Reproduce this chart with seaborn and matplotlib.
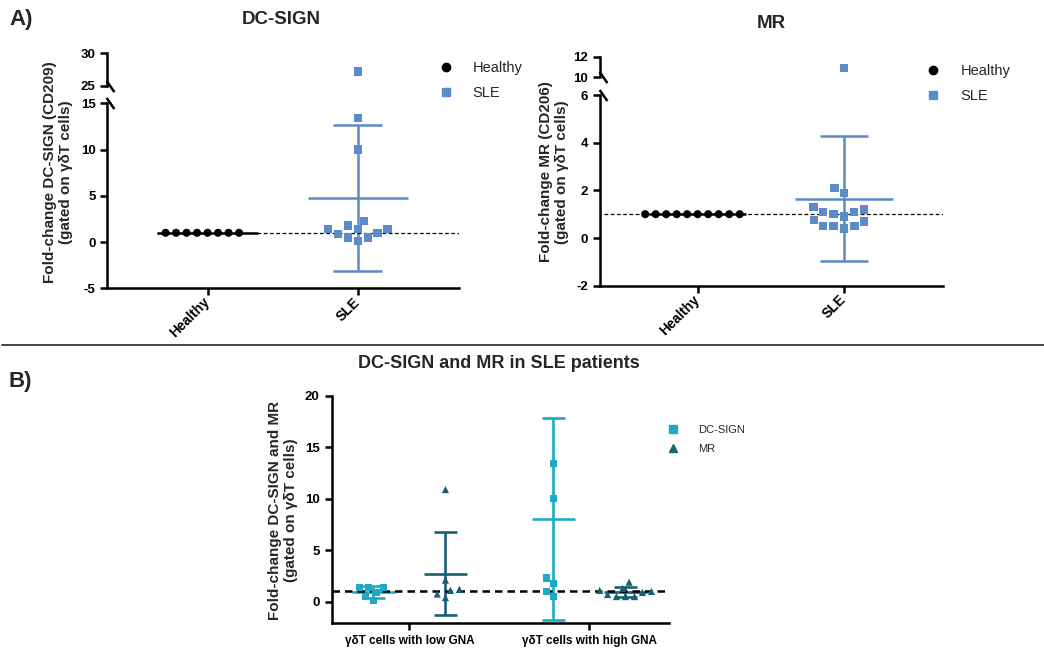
import matplotlib
matplotlib.use("Agg")
import matplotlib.pyplot as plt
from matplotlib.lines import Line2D
import numpy as np
import pandas as pd
import seaborn as sns

# ---------------- data ----------------
groups_a = ["Healthy", "SLE"]
gna_groups = ["low", "high"]
gna_labels = ["γδT cells with low GNA", "γδT cells with high GNA"]
markers_b = ["DC-SIGN", "MR"]

dcsign_healthy = [1.0, 1.0, 1.0, 1.0, 1.0, 1.0, 1.0, 1.0]
dcsign_sle_low_gna = [1.4, 1.4, 0.1, 0.5, 1.4, 0.9]
dcsign_sle_high_gna = [27.2, 13.4, 10.0, 2.3, 1.8, 0.5, 1.0]

mr_healthy = [1.0, 1.0, 1.0, 1.0, 1.0, 1.0, 1.0, 1.0, 1.0, 1.0]
mr_sle_low_gna = [10.9, 2.1, 1.1, 0.4, 0.75, 1.2]
mr_sle_high_gna = [1.9, 1.3, 1.1, 1.0, 0.9, 0.7, 0.5, 0.5, 0.5]

dc_ylim_low, dc_yticks_low = (-5, 15), [-5, 0, 5, 10, 15]
dc_ylim_high, dc_yticks_high = (25, 30), [25, 30]
mr_ylim_low, mr_yticks_low = (-2, 6), [-2, 0, 2, 4, 6]
mr_ylim_high, mr_yticks_high = (10, 12), [10, 12]
b_ylim, b_yticks = (-2.1, 20), [0, 5, 10, 15, 20]

# ---------------- style ----------------
SLE_BLUE = "#5B8BC9"
DC_CYAN = "#1FA9C4"
MR_TEAL = "#1B5F73"

sns.set_style("ticks", {"axes.edgecolor": "black", "xtick.color": "black", "ytick.color": "black"})
plt.rcParams["font.family"] = ["Liberation Sans", "DejaVu Sans"]
plt.rcParams["font.weight"] = "bold"
plt.rcParams["axes.linewidth"] = 1.8
plt.rcParams["axes.unicode_minus"] = False

W, H = 1044, 651
fig = plt.figure(figsize=(W / 100, H / 100), dpi=100)


def box(x0, y_top, x1, y_bot):
    return [x0 / W, 1 - y_bot / H, (x1 - x0) / W, (y_bot - y_top) / H]


def style_ax(ax, size=9.5):
    ax.tick_params(width=1.8, length=5, labelsize=size, color="black")
    for s in ax.spines.values():
        s.set_linewidth(1.8)
    for lab in ax.get_xticklabels() + ax.get_yticklabels():
        lab.set_fontweight("bold")
    ax.patch.set_visible(False)


def add_break(ax_lo, ax_hi):
    kw = dict(marker=[(-0.7, 1), (0.7, -1)], markersize=8, linestyle="none",
              color="black", mew=1.8, clip_on=False, zorder=10)
    ax_lo.plot([0.008], [1], transform=ax_lo.transAxes, **kw)
    ax_hi.plot([0.008], [0], transform=ax_hi.transAxes, **kw)


def draw_panel_a(ax_lo, ax_hi, healthy, sle, lo_lim, lo_ticks, hi_lim, hi_ticks,
                 dash_from, legend_xy):
    df = pd.DataFrame({
        "group": ["Healthy"] * len(healthy) + ["SLE"] * len(sle),
        "value": list(healthy) + list(sle),
    })
    for ax in (ax_lo, ax_hi):
        sns.swarmplot(data=df[df["group"] == "Healthy"], x="group", y="value",
                      order=groups_a, color="black", marker="o", size=5.8,
                      linewidth=1.4, edgecolor="none", ax=ax, zorder=3)
        sns.swarmplot(data=df[df["group"] == "SLE"], x="group", y="value",
                      order=groups_a, color=SLE_BLUE, marker="s", size=6.0,
                      linewidth=1.4, edgecolor="none", ax=ax, zorder=3)
    stats = df.groupby("group")["value"].agg(["mean", "std"]).reindex(groups_a).fillna(0)
    for i, g in enumerate(groups_a):
        m, s = stats.loc[g, "mean"], stats.loc[g, "std"]
        c = "black" if g == "Healthy" else SLE_BLUE
        ax_lo.hlines(m, i - 0.333, i + 0.333, color=c, lw=1.8, zorder=2)
        if s > 0:
            ax_lo.vlines(i, m - s, m + s, color=c, lw=1.8, zorder=2)
            ax_lo.hlines([m - s, m + s], i - 0.163, i + 0.163, color=c, lw=1.8, zorder=2)
    xl = (-0.667, 1.675)
    ax_lo.hlines(1, dash_from, xl[1], color="black", lw=0.9, ls=(0, (3, 2)), zorder=2.5)
    for ax in (ax_lo, ax_hi):
        ax.set_xlim(xl)
        ax.set_xlabel("")
        ax.set_ylabel("")
    ax_lo.set_ylim(lo_lim)
    ax_lo.set_yticks(lo_ticks)
    ax_hi.set_ylim(hi_lim)
    ax_hi.set_yticks(hi_ticks)
    sns.despine(ax=ax_lo)
    sns.despine(ax=ax_hi, bottom=True)
    ax_hi.set_xticks([])
    ax_lo.set_xticks([0, 1])
    ax_lo.set_xticklabels(groups_a, rotation=45, ha="right", va="center",
                          rotation_mode="anchor")
    style_ax(ax_lo)
    style_ax(ax_hi)
    for lab in ax_lo.get_xticklabels():
        lab.set_fontsize(10)
    add_break(ax_lo, ax_hi)
    handles = [Line2D([], [], marker="o", color="black", ls="none", markersize=6),
               Line2D([], [], marker="s", color=SLE_BLUE, ls="none", markersize=6)]
    fig.legend(handles, groups_a, loc="upper left",
               bbox_to_anchor=(legend_xy[0] / W, 1 - legend_xy[1] / H),
               bbox_transform=fig.transFigure, frameon=False,
               prop={"size": 10.5, "weight": "normal"}, handlelength=1.0,
               handletextpad=1.35, labelspacing=0.75, borderpad=0, borderaxespad=0)


# ---------------- panel A: DC-SIGN ----------------
ax_dc_lo = fig.add_axes(box(107.3, 103.3, 459.3, 288.3))
ax_dc_hi = fig.add_axes(box(107.3, 53.3, 459.3, 86))
draw_panel_a(ax_dc_lo, ax_dc_hi, dcsign_healthy, dcsign_sle_low_gna + dcsign_sle_high_gna,
             dc_ylim_low, dc_yticks_low, dc_ylim_high, dc_yticks_high,
             dash_from=-0.333, legend_xy=(438.5, 61))

# ---------------- panel A: MR ----------------
ax_mr_lo = fig.add_axes(box(600, 95, 943, 285.7))
ax_mr_hi = fig.add_axes(box(600, 56.7, 943, 77.3))
draw_panel_a(ax_mr_lo, ax_mr_hi, mr_healthy, mr_sle_low_gna + mr_sle_high_gna,
             mr_ylim_low, mr_yticks_low, mr_ylim_high, mr_yticks_high,
             dash_from=-0.64, legend_xy=(926, 64))

# ---------------- panel B ----------------
axb = fig.add_axes(box(331.5, 396, 669, 623.3))
df_b = pd.DataFrame({
    "gna": (["low"] * len(dcsign_sle_low_gna) + ["high"] * len(dcsign_sle_high_gna)
            + ["low"] * len(mr_sle_low_gna) + ["high"] * len(mr_sle_high_gna)),
    "marker": (["DC-SIGN"] * (len(dcsign_sle_low_gna) + len(dcsign_sle_high_gna))
               + ["MR"] * (len(mr_sle_low_gna) + len(mr_sle_high_gna))),
    "value": dcsign_sle_low_gna + dcsign_sle_high_gna + mr_sle_low_gna + mr_sle_high_gna,
})
pal_b = {"DC-SIGN": DC_CYAN, "MR": MR_TEAL}
for mk, sym in zip(markers_b, ["s", "^"]):
    sns.swarmplot(data=df_b[df_b["marker"] == mk], x="gna", y="value", order=gna_groups,
                  hue="marker", hue_order=markers_b, palette=pal_b, dodge=True,
                  marker=sym, size=5.2, linewidth=1.0, edgecolor="none",
                  legend=False, ax=axb, zorder=3)
stats_b = df_b.groupby(["gna", "marker"])["value"].agg(["mean", "std"])
for i, g in enumerate(gna_groups):
    for j, mk in enumerate(markers_b):
        m, s = stats_b.loc[(g, mk), "mean"], stats_b.loc[(g, mk), "std"]
        x = i + (-0.2 if j == 0 else 0.2)
        c = pal_b[mk]
        axb.hlines(m, x - 0.12, x + 0.12, color=c, lw=1.9, zorder=2)
        axb.vlines(x, m - s, m + s, color=c, lw=1.9, zorder=2)
        axb.hlines([m - s, m + s], x - 0.063, x + 0.063, color=c, lw=1.9, zorder=2)
axb.axhline(1, color="black", lw=1.8, ls=(0, (3, 2)), zorder=2.5)
axb.set_xlim(-0.433, 1.442)
axb.set_ylim(b_ylim)
axb.set_yticks(b_yticks)
axb.set_xticks([0, 1])
axb.set_xticklabels(gna_labels)
axb.set_xlabel("")
axb.set_ylabel("")
sns.despine(ax=axb)
style_ax(axb)
for lab in axb.get_xticklabels():
    lab.set_fontsize(8.5)
handles_b = [Line2D([], [], marker="s", color=DC_CYAN, ls="none", markersize=5.5),
             Line2D([], [], marker="^", color=MR_TEAL, ls="none", markersize=5.5)]
fig.legend(handles_b, markers_b, loc="upper left",
           bbox_to_anchor=(667.4 / W, 1 - 425 / H), bbox_transform=fig.transFigure,
           frameon=False, prop={"size": 8, "weight": "normal"}, handlelength=1.0,
           handletextpad=1.76, labelspacing=0.8, borderpad=0, borderaxespad=0)

# ---------------- texts ----------------
fig.text(9 / W, 1 - 20 / H, "A)", ha="left", va="center", fontsize=16, weight="bold")
fig.text(9 / W, 1 - 381 / H, "B)", ha="left", va="center", fontsize=16, weight="bold")
fig.text(281.7 / W, 1 - 19.3 / H, "DC-SIGN", ha="center", va="center", fontsize=13.5, weight="bold")
fig.text(771.7 / W, 1 - 23.3 / H, "MR", ha="center", va="center", fontsize=13.5, weight="bold")
fig.text(499 / W, 1 - 364 / H, "DC-SIGN and MR in SLE patients", ha="center", va="center",
         fontsize=13, weight="bold")
ylab_kw = dict(rotation=90, ha="center", va="center", fontsize=11, weight="bold",
               linespacing=1.25, multialignment="center")
fig.text(58 / W, 1 - 172 / H, "Fold-change DC-SIGN (CD209)\n(gated on γδT cells)", **ylab_kw)
fig.text(554 / W, 1 - 172 / H, "Fold-change MR (CD206)\n(gated on γδT cells)", **ylab_kw)
fig.text(283 / W, 1 - 510 / H, "Fold-change DC-SIGN and MR\n(gated on γδT cells)", **ylab_kw)

fig.add_artist(Line2D([0.002, 1.0], [1 - 345 / H, 1 - 345 / H], transform=fig.transFigure,
                      color="#444444", lw=1.4))

fig.savefig("out.png", dpi=100)
